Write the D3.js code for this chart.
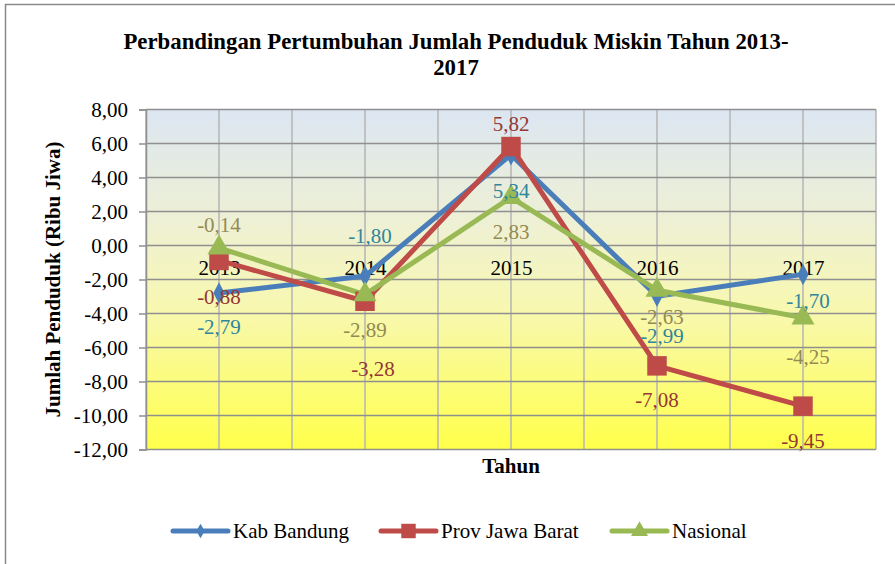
<!DOCTYPE html>
<html><head><meta charset="utf-8">
<script src="https://cdn.jsdelivr.net/npm/d3@7"></script>
<style>body{margin:0;background:#fff}svg{display:block}</style>
</head><body>
<svg id="c" width="895" height="564"></svg>
<script>
const categories = ["2013","2014","2015","2016","2017"];
const kabBandung = [-2.79, -1.80, 5.34, -2.99, -1.70];
const provJabar = [-0.88, -3.28, 5.82, -7.08, -9.45];
const nasional = [-0.14, -2.89, 2.83, -2.63, -4.25];
const yTicks = [8,6,4,2,0,-2,-4,-6,-8,-10,-12];
const seriesNames = ["Kab Bandung","Prov Jawa Barat","Nasional"];

// layout config for data-label placement (pixel offsets from each point)
const labelDy = [
  [34, -40, 36, 39, 26],
  [36, 67, -23, 34, 34],
  [-23, 35, 34.5, 26, 39]
];
const labelDx = [
  [0, 5, 0, 5, 5],
  [0, 8, 0, 0, 0],
  [0, 0, 0, 5, 5]
];

const series = [
  {name: seriesNames[0], values: kabBandung, color:"#4A7EBB", label:"#31859C", marker:"diamond"},
  {name: seriesNames[1], values: provJabar, color:"#BE4B48", label:"#953735", marker:"square"},
  {name: seriesNames[2], values: nasional, color:"#98B954", label:"#948A54", marker:"triangle"}
];

const FONT = 'Liberation Serif';
const svg = d3.select("#c").attr("font-family", FONT);
const L=146, R=876, T=109.5, B=449.5;
const x = d3.scalePoint().domain(categories).range([L,R]).padding(0.5);
const y = d3.scaleLinear().domain([-12,8]).range([B,T]);
const fmt = v => d3.format(".2f")(v).replace(".",",").replace("\u2212","-");

// outer frame
svg.append("rect").attr("x",5.5).attr("y",4.5).attr("width",1000).attr("height",1000)
  .attr("fill","none").attr("stroke","#8a8a8a").attr("stroke-width",1.5);

// gradient
const defs = svg.append("defs");
const g = defs.append("linearGradient").attr("id","bg").attr("x1",0).attr("y1",0).attr("x2",0).attr("y2",1);
[[0,"#DCE6F2"],[0.35,"#EFF1D2"],[0.6,"#F8F8AE"],[1,"#FFFF4A"]].forEach(s=>g.append("stop").attr("offset",s[0]).attr("stop-color",s[1]));
svg.append("rect").attr("x",L).attr("y",T).attr("width",R-L).attr("height",B-T).attr("fill","url(#bg)");

// vertical gridlines
const step = x.step();
const vx = [];
categories.forEach((c)=>{ vx.push(x(c)-step/2); vx.push(x(c)); });
vx.push(x(categories[categories.length-1])+step/2);
svg.append("g").selectAll("line").data(vx).join("line")
  .attr("x1",d=>d).attr("x2",d=>d).attr("y1",T).attr("y2",B)
  .attr("stroke","#B4B4B4").attr("stroke-width",1.5);

// horizontal gridlines
svg.append("g").selectAll("line").data(yTicks).join("line")
  .attr("x1",L).attr("x2",R).attr("y1",d=>y(d)).attr("y2",d=>y(d))
  .attr("stroke","#8F8F8F").attr("stroke-width",1.5);

// y axis
const yAxis = d3.axisLeft(y).tickValues(yTicks).tickSize(7).tickPadding(11).tickFormat(fmt);
const ya = svg.append("g").attr("transform",`translate(${L},0)`).call(yAxis).attr("font-family",FONT);
ya.select(".domain").attr("stroke","#8F8F8F").attr("stroke-width",1.5);
ya.selectAll(".tick line").attr("stroke","#8F8F8F").attr("stroke-width",1.5);
ya.selectAll(".tick text").attr("font-size","21px").attr("fill","#000").attr("font-family",FONT);

// x axis at zero
const xAxis = d3.axisBottom(x).tickSize(0).tickPadding(15);
const xa = svg.append("g").attr("transform",`translate(0,${y(0)})`).call(xAxis).attr("font-family",FONT);
xa.select(".domain").remove();
xa.selectAll(".tick text").attr("font-size","21px").attr("fill","#000").attr("font-family",FONT);

// lines & markers
const line = d3.line().x((d,i)=>x(categories[i])).y(d=>y(d));
const sym = {diamond: d3.symbolDiamond, square: d3.symbolSquare, triangle: d3.symbolTriangle};
const symSize = {diamond: 110, square: 380, triangle: 230};
series.forEach(s=>{
  svg.append("path").datum(s.values).attr("d",line).attr("fill","none")
    .attr("stroke",s.color).attr("stroke-width",5).attr("stroke-linejoin","round");
});
series.forEach(s=>{
  svg.append("g").selectAll("path").data(s.values).join("path")
    .attr("transform",(d,i)=>`translate(${x(categories[i])},${y(d)})${s.marker==="diamond"?" scale(1,1.1)":""}`)
    .attr("d",d3.symbol().type(sym[s.marker]).size(symSize[s.marker])())
    .attr("fill",s.color);
});

// data labels
series.forEach((s,si)=>{
  svg.append("g").selectAll("text").data(s.values).join("text")
    .attr("font-family",FONT)
    .attr("x",(d,i)=>x(categories[i]) + labelDx[si][i])
    .attr("y",(d,i)=>y(d) + labelDy[si][i])
    .attr("dy","0.35em").attr("text-anchor","middle")
    .attr("font-size","21px").attr("fill",s.label)
    .text(d=>fmt(d));
});

// title
const title = svg.append("text").attr("text-anchor","middle").attr("font-weight","bold")
  .attr("font-size","22.8px").attr("fill","#000").attr("font-family",FONT);
title.append("tspan").attr("x",456).attr("y",49).text("Perbandingan Pertumbuhan Jumlah Penduduk Miskin Tahun 2013-");
title.append("tspan").attr("x",456).attr("y",75).text("2017");

// axis titles
svg.append("text").attr("transform",`translate(60,${(T+B)/2}) rotate(-90)`).attr("text-anchor","middle")
  .attr("font-weight","bold").attr("font-size","21px").attr("font-family",FONT).text("Jumlah Penduduk (Ribu Jiwa)");
svg.append("text").attr("x",511).attr("y",473).attr("text-anchor","middle")
  .attr("font-weight","bold").attr("font-size","21px").attr("font-family",FONT).text("Tahun");

// legend
const legX = [173, 381, 612];
const lg = svg.append("g");
series.forEach((s,i)=>{
  const gx = legX[i], gy = 531;
  lg.append("line").attr("x1",gx).attr("x2",gx+55).attr("y1",gy).attr("y2",gy)
    .attr("stroke",s.color).attr("stroke-width",5).attr("stroke-linecap","round");
  lg.append("path").attr("transform",`translate(${gx+27.5},${gy})`)
    .attr("d",d3.symbol().type(sym[s.marker]).size(symSize[s.marker]*0.55)()).attr("fill",s.color);
  lg.append("text").attr("x",gx+60).attr("y",gy).attr("dy","0.35em").attr("font-size","21px")
    .attr("font-family",FONT).text(s.name);
});
</script>
</body></html>
